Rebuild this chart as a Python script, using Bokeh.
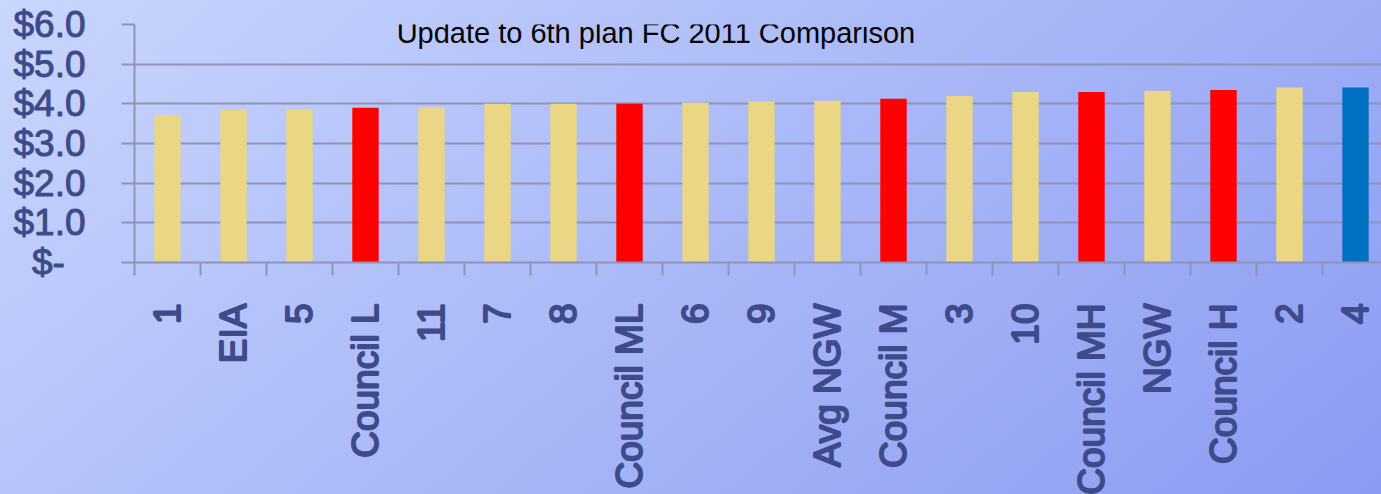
import math
import numpy as np
from bokeh.plotting import figure
from bokeh.models import ColumnDataSource, Range1d, FixedTicker, Label
from bokeh.transform import factor_cmap
from bokeh.embed import file_html
from bokeh.resources import INLINE

# ---- data ----
categories = ["1", "EIA", "5", "Council L", "11", "7", "8", "Council ML", "6", "9",
              "Avg NGW", "Council M", "3", "10", "Council MH", "NGW", "Council H", "2", "4"]
prices = [3.71, 3.85, 3.86, 3.90, 3.92, 4.00, 4.00, 4.00, 4.03, 4.06,
          4.08, 4.13, 4.20, 4.30, 4.30, 4.33, 4.35, 4.41, 4.41]
groups = ["Forecast", "Forecast", "Forecast", "Council", "Forecast", "Forecast", "Forecast",
          "Council", "Forecast", "Forecast", "Forecast", "Council", "Forecast", "Forecast",
          "Council", "Forecast", "Council", "Forecast", "Highlight"]
y_ticks = [0, 1, 2, 3, 4, 5, 6]
y_tick_labels = ["$-\u00a0\u00a0", "$1.0", "$2.0", "$3.0", "$4.0", "$5.0", "$6.0"]
title_text = "Update to 6th plan FC 2011 Comparison"

group_factors = ["Forecast", "Council", "Highlight"]
group_colors = ["#EAD684", "#FF0000", "#0070C0"]

GRID = "#9094B2"
LABEL = "#3E4A8A"

centers = np.arange(len(categories)) + 0.5
boundaries = list(range(len(categories) + 1))

src = ColumnDataSource(dict(x=centers, price=prices, group=groups, cat=categories))

p = figure(width=1381, height=540,
           x_range=Range1d(0, 18.894), y_range=Range1d(0, 6),
           output_backend="svg", toolbar_location=None,
           min_border_left=134, min_border_right=0,
           min_border_top=24, min_border_bottom=278)

p.vbar(x="x", top="price", width=0.4, source=src, line_color=None,
       fill_color=factor_cmap("group", palette=group_colors, factors=group_factors))

p.background_fill_color = None
p.border_fill_color = None
p.outline_line_color = None
p.styles = {"background": "linear-gradient(140deg, #C9D6FD 0%, #8A99F2 100%)"}

# x axis
xt = FixedTicker(ticks=list(centers), minor_ticks=boundaries)
p.xaxis.ticker = xt
p.xaxis.major_label_overrides = {float(c): cat for c, cat in zip(centers, categories)}
p.xaxis.major_tick_line_color = None
p.xaxis.major_tick_out = 13
p.xaxis.major_tick_in = 0
p.xaxis.minor_tick_out = 13
p.xaxis.minor_tick_in = 0
p.xaxis.minor_tick_line_color = GRID
p.xaxis.minor_tick_line_width = 2
p.xaxis.axis_line_color = GRID
p.xaxis.axis_line_width = 2
p.xaxis.major_label_orientation = math.pi / 2
p.xaxis.major_label_standoff = 28
p.xgrid.visible = False

# y axis
yt = FixedTicker(ticks=y_ticks, minor_ticks=[])
p.yaxis.ticker = yt
p.ygrid.ticker = yt
p.yaxis.major_label_overrides = dict(zip(y_ticks, y_tick_labels))
p.yaxis.major_tick_out = 13
p.yaxis.major_tick_in = 0
p.yaxis.minor_tick_out = 0
p.yaxis.minor_tick_in = 0
p.yaxis.major_tick_line_color = GRID
p.yaxis.major_tick_line_width = 2
p.yaxis.axis_line_color = GRID
p.yaxis.axis_line_width = 2
p.yaxis.major_label_standoff = 36
p.ygrid.grid_line_color = GRID
p.ygrid.grid_line_width = 2

for ax in (p.xaxis, p.yaxis):
    ax.major_label_text_font = "Liberation Sans"
    ax.major_label_text_font_style = "normal"
    ax.major_label_text_font_size = "37px"
    ax.major_label_text_color = LABEL
    ax.major_label_text_outline_color = LABEL

p.add_layout(Label(x=7.9, y=6, y_offset=-8, text=title_text,
                   text_font="Liberation Sans", text_font_size="29px",
                   text_color="black", text_align="center", text_baseline="middle"))

open("out.html", "w").write(file_html(p, INLINE))
